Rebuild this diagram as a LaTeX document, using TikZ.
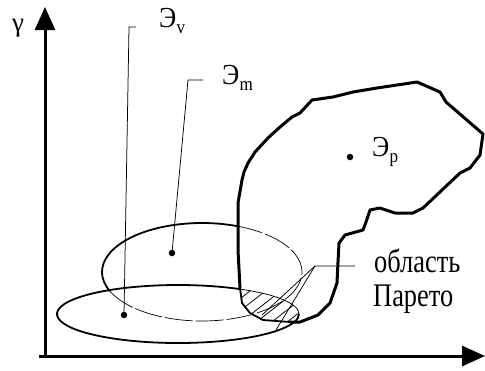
\documentclass[tikz,border=0pt]{standalone}
\usepackage{fontspec}
\setmainfont{Liberation Serif}
\usetikzlibrary{arrows.meta}
\newcommand{\elab}[1]{Э\kern0.3bp\raisebox{-6bp}{\fontsize{19bp}{19bp}\selectfont #1}}
\def\blobpath{(240,288) -- (238,250) -- (238,203) -- (242,180) -- (244,172) -- (248,163) -- (255,152) -- (268,138) -- (280,127) -- (292,117) -- (300,113) -- (312,100) -- (333,97) -- (353,92) -- (377,88) -- (417,82) -- (440,92) -- (446,102) -- (483,134) -- (480,155) -- (470,168) -- (460,173) -- (423,208) -- (413,213) -- (395,213) -- (380,208) -- (370,210) -- (366,222) -- (363,230) -- (345,235) -- (339,243) -- (338,262) -- (337,283) -- (330,303) -- (318,315) -- (300,322) -- (290,322) -- (263,320) -- (250,313) -- (242,303) -- cycle}
\begin{document}
\begin{tikzpicture}[x=1bp,y=-1bp,
  axis/.style={line width=3bp,-{Triangle[length=23bp,width=20bp]}},
  ell/.style={line width=1.8bp},
  hidden/.style={line width=0.7bp,dash pattern=on 28bp off 3bp},
  leader/.style={line width=0.75bp},
  blobline/.style={line width=3bp,line join=round},
  dot/.style={circle,fill=black,inner sep=0pt,minimum size=6.5bp},
  lbl/.style={inner sep=0pt,font=\fontsize{29bp}{33bp}\selectfont},
  plbl/.style={inner sep=0pt,font=\fontsize{33bp}{38bp}\selectfont}]
\useasboundingbox (0,0) rectangle (485,370);
% axes
\coordinate (O) at (45,356);
\coordinate (Ytip) at (45,7);
\coordinate (Xtip) at (485,356);
\coordinate (Xs) at (39,356);
\draw[axis] (O) -- (Ytip);
\draw[axis] (Xs) -- (Xtip);
\node[lbl,anchor=base west] (gam) at (12,31) {\fontsize{27bp}{30bp}\selectfont γ};
% hatch
\begin{scope}
  \clip (178,314) ellipse [x radius=121, y radius=29];
  \clip \blobpath;
  \foreach \c in {486,498,...,546}
    \draw[leader] (200,\c-156) -- (330,\c-257.4);
\end{scope}
% upper ellipse (E_m)
\draw[ell] (202,272) ++(-69:100 and 49) arc[start angle=-69,end angle=-203,x radius=100,y radius=49];
\draw[hidden] (202,272) ++(157:100 and 49) arc[start angle=157,end angle=-69,x radius=100,y radius=49];
% lower ellipse (E_v)
\draw[ell] (178,314) ++(-59:121 and 29) arc[start angle=-59,end angle=-360,x radius=121,y radius=29];
\draw[leader] (178,314) ++(0:121 and 29) arc[start angle=0,end angle=-59,x radius=121,y radius=29];
% blob
\draw[blobline] (240,288) -- (238,250) -- (238,203) -- (242,180) -- (244,172) -- (248,163) -- (255,152) -- (268,138) -- (280,127) -- (292,117) -- (300,113) -- (312,100) -- (333,97) -- (353,92) -- (377,88) -- (417,82) -- (440,92) -- (446,102) -- (483,134) -- (480,155) -- (470,168) -- (460,173) -- (423,208) -- (413,213) -- (395,213) -- (380,208) -- (370,210) -- (366,222) -- (363,230) -- (345,235) -- (339,243) -- (338,262) -- (337,283) -- (330,303) -- (318,315) -- (300,322) -- (290,322);
\draw[line width=1.8bp,line join=round] (290,322) -- (263,320) -- (250,313) -- (242,303) -- (240,288);
% dots
\node[dot] (pv) at (124,315) {};
\node[dot] (pm) at (172,253) {};
\node[dot] (pp) at (350,157) {};
% labels
\node[lbl,anchor=base west] (lv) at (159,27) {\scalebox{0.9}[1]{\elab{v}}};
\node[lbl,anchor=base west] (lm) at (222,84) {\scalebox{0.9}[1]{\elab{m}}};
\node[lbl,anchor=base west] (lp) at (372,156) {\scalebox{0.9}[1]{\elab{p}}};
\node[plbl,anchor=base west] (lpar) at (374,272) {\scalebox{0.8}[1]{область}};
\node[plbl,anchor=base west] (lpar2) at (373,306) {\scalebox{0.8}[1]{Парето}};
% leaders
\coordinate (vk) at (129,27);
\coordinate (ve) at (136,27);
\draw[leader] (ve) -- (vk) -- (pv.center);
\coordinate (mk) at (188,80);
\coordinate (me) at (203,80);
\draw[leader] (me) -- (mk) -- (pm.center);
\coordinate (pe) at (355,266);
\coordinate (pk) at (315,266);
\coordinate (pa) at (262,315);
\coordinate (pb) at (276,330);
\draw[leader] (pe) -- (pk) -- (pa);
\draw[leader] (pk) -- (pb);
\end{tikzpicture}
\end{document}
